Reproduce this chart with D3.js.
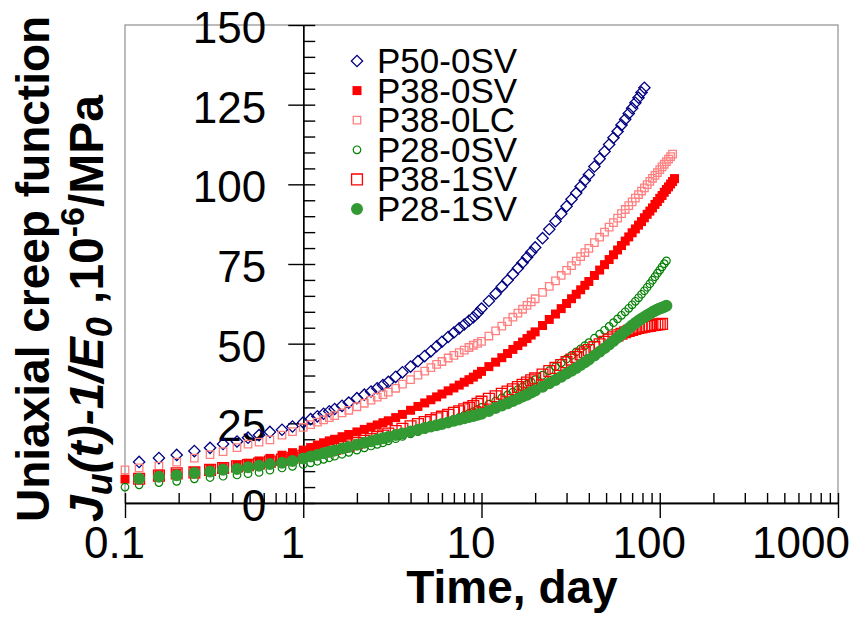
<!doctype html>
<html>
<meta charset="utf-8">
<style>
body { margin: 0; background: #fff; }
svg { font-family: Arial, "Liberation Sans", sans-serif; }
</style>
<head>
<script src="https://cdn.jsdelivr.net/npm/d3@7"></script>
</head>
<body>
<script>

var width = 858,
	height = 620;

// time of each reading, days
var days = [0.1, 0.12, 0.155, 0.195, 0.245, 0.3, 0.355, 0.425, 0.49, 0.565, 0.65, 0.76, 0.87,
	1, 1.1, 1.2, 1.3, 1.4, 1.5, 1.65, 1.8, 2, 2.2, 2.4, 2.6, 2.8, 3, 3.3, 3.6, 4, 4.4, 4.8, 5.2, 5.6, 6, 6.5, 7, 7.5, 8, 8.5, 9, 9.5,
	10, 11, 12, 13, 14, 15, 16, 17, 18, 19, 20, 22, 24, 26, 28, 30, 32, 34, 36, 38, 40,
	43, 46, 49, 52, 55, 58, 61, 64, 67, 70, 73, 76, 79, 82, 85, 88, 91, 94, 97, 100, 103, 106, 109, 112, 115, 118, 121];

// creep function, 10^-6/MPa (null = no reading; series stop when the test ended)
var p50_0sv = [null, 12.9, 14.1, 15.1, 16.3, 17.3, 18.5, 19.3, 20.5, 21.3, 22.3, 23.0, 24.0,
	25.3, 26.3, 27.2, 28.0, 28.8, 29.5, 30.5, 31.5, 32.9, 34.0, 35.0, 36.0, 37.0, 38.0, 39.6, 41.0, 42.8, 44.5, 46.1, 47.6, 49.2, 50.6, 52.1, 53.5, 54.8, 56.0, 57.2, 58.3, 59.6,
	61.0, 63.4, 65.7, 67.9, 69.9, 71.8, 73.7, 75.4, 77.1, 78.7, 80.2, 83.1, 85.9, 88.4, 90.8, 93.1, 95.3, 97.3, 99.3, 101.2, 103.0,
	105.6, 108.0, 110.3, 112.5, 114.6, 116.6, 118.6, 120.4, 122.2, 123.9, 125.6, 127.2, 128.8, 130.3];

var p38_0sv = [7.5, 8.0, 8.8, 9.3, 9.9, 10.7, 11.1, 11.9, 12.5, 13.2, 14.0, 15.0, 15.8,
	16.6, 17.4, 18.2, 18.9, 19.5, 20.0, 20.8, 21.5, 22.3, 23.1, 23.8, 24.5, 25.2, 25.8, 26.8, 27.8, 29.1, 30.3, 31.4, 32.4, 33.3, 34.2, 35.2, 36.1, 37.0, 37.9, 38.7, 39.5, 40.4,
	41.3, 42.8, 44.2, 45.6, 46.9, 48.2, 49.4, 50.5, 51.6, 52.7, 53.7, 55.7, 57.6, 59.3, 61.0, 62.6, 64.1, 65.5, 66.9, 68.3, 69.5,
	71.4, 73.1, 74.8, 76.4, 77.9, 79.4, 80.8, 82.2, 83.5, 84.8, 86.0, 87.2, 88.3, 89.5, 90.6, 91.6, 92.6, 93.7, 94.6, 95.6, 96.5, 97.5, 98.4, 99.2, 100.1, 100.9, 101.8];

var p38_0lc = [10.4, 11.0, 11.6, 12.8, 14.1, 15.2, 16.1, 17.4, 18.5, 19.1, 19.8, 21.3, 22.4,
	23.7, 24.6, 25.4, 26.1, 26.8, 27.4, 28.3, 29.1, 30.2, 31.3, 32.3, 33.2, 34.0, 34.8, 36.0, 37.3, 38.7, 40.1, 41.4, 42.5, 43.5, 44.4, 45.5, 46.3, 47.2, 48.0, 48.8, 49.5, 50.1,
	50.7, 52.4, 54.0, 55.5, 56.9, 58.3, 59.6, 60.8, 62.0, 63.1, 64.1, 66.1, 68.0, 69.7, 71.4, 73.0, 74.5, 75.9, 77.3, 78.6, 79.9,
	81.7, 83.4, 85.0, 86.6, 88.0, 89.4, 90.8, 92.1, 93.3, 94.5, 95.7, 96.8, 97.9, 98.9, 99.9, 100.9, 101.9, 102.8, 103.7, 104.6, 105.5, 106.3, 107.1, 107.9, 108.7, 109.5];

var p28_0sv = [5.0, 5.7, 6.4, 6.8, 7.6, 8.0, 8.4, 8.8, 9.2, 9.6, 10.3, 11.0, 11.5,
	12.1, 12.6, 13.1, 13.7, 14.2, 14.7, 15.3, 15.9, 16.6, 17.3, 17.9, 18.4, 18.9, 19.5, 20.2, 20.9, 21.7, 22.4, 23.1, 23.7, 24.3, 24.9, 25.6, 26.3, 26.9, 27.5, 28.1, 28.7, 29.4,
	30.0, 31.0, 32.0, 33.0, 33.9, 34.8, 35.6, 36.4, 37.2, 38.0, 38.7, 40.1, 41.5, 42.8, 44.0, 45.2, 46.3, 47.4, 48.4, 49.4, 50.3,
	51.7, 53.0, 54.2, 55.4, 56.6, 57.8, 58.9, 60.0, 61.1, 62.2, 63.3, 64.4, 65.5, 66.6, 67.7, 68.8, 69.9, 71.0, 72.1, 73.1, 74.1, 75.1, 76.0];

var p38_1sv = [null, 7.6, 8.6, 9.3, 9.6, 10.4, 11.0, 11.5, 11.9, 12.4, 13.0, 13.6, 14.2,
	14.8, 15.3, 15.8, 16.2, 16.6, 17.0, 17.6, 18.1, 18.8, 19.5, 20.1, 20.7, 21.2, 21.8, 22.6, 23.3, 24.1, 24.8, 25.4, 26.0, 26.6, 27.1, 27.7, 28.3, 28.8, 29.4, 29.9, 30.4, 31.1,
	31.8, 32.7, 33.5, 34.3, 35.0, 35.7, 36.4, 37.1, 37.8, 38.5, 39.1, 40.3, 41.4, 42.4, 43.3, 44.2, 45.0, 45.8, 46.6, 47.3, 48.0,
	48.9, 49.8, 50.6, 51.3, 52.0, 52.6, 53.1, 53.6, 54.0, 54.3, 54.6, 54.9, 55.1, 55.3, 55.5, 55.6, 55.8, 55.9, 56.0, 56.1, 56.2];

var p28_1sv = [null, 7.6, 8.2, 8.7, 9.4, 9.9, 10.4, 10.7, 11.2, 11.7, 12.2, 12.6, 13.2,
	14.0, 14.6, 15.1, 15.6, 16.1, 16.5, 17.1, 17.6, 18.3, 18.9, 19.4, 19.9, 20.3, 20.7, 21.3, 21.8, 22.4, 23.0, 23.5, 24.0, 24.4, 24.8, 25.3, 25.8, 26.2, 26.6, 27.0, 27.3, 27.7,
	28.0, 28.9, 29.8, 30.6, 31.3, 32.0, 32.7, 33.4, 34.0, 34.7, 35.3, 36.5, 37.6, 38.6, 39.6, 40.6, 41.5, 42.4, 43.3, 44.2, 45.0,
	46.3, 47.5, 48.6, 49.7, 50.8, 51.9, 52.9, 53.9, 54.8, 55.7, 56.5, 57.2, 57.8, 58.4, 58.9, 59.4, 59.9, 60.3, 60.7, 61.0, 61.3, 61.6, 61.9];

var seriesNames = ["P50-0SV", "P38-0SV", "P38-0LC", "P28-0SV", "P38-1SV", "P28-1SV"];
var seriesValues = [p50_0sv, p38_0sv, p38_0lc, p28_0sv, p38_1sv, p28_1sv];

var yTicks = [0, 25, 50, 75, 100, 125, 150];
var xTicks = [0.1, 1, 10, 100, 1000];
var xTickLabels = ["0.1", "1", "10", "100", "1000"];

// marker look for each series, same order as seriesNames
var markers = [
	{shape: d3.symbolSquare, size: 64, rotate: 45, fill: "none", stroke: "#000080", sw: 1.3},
	{shape: d3.symbolSquare, size: 81, rotate: 0, fill: "#ff0000", stroke: "none", sw: 0},
	{shape: d3.symbolSquare, size: 56, rotate: 0, fill: "none", stroke: "#ff8080", sw: 1.3},
	{shape: d3.symbolCircle, size: 45, rotate: 0, fill: "none", stroke: "#008000", sw: 1.2},
	{shape: d3.symbolSquare, size: 117, rotate: 0, fill: "none", stroke: "#ff0000", sw: 1.3},
	{shape: d3.symbolCircle, size: 113, rotate: 0, fill: "#339933", stroke: "none", sw: 0}
];

var svg = d3.select("body").append("svg")
	.attr("width", width)
	.attr("height", height);

var x = d3.scaleLog()
	.domain([0.1, 1000])
	.range([125, 838]);

var y = d3.scaleLinear()
	.domain([0, 150])
	.range([503, 25]);

// grey frame round the plot
svg.append("rect")
	.attr("x", x(0.1))
	.attr("y", y(150))
	.attr("width", x(1000) - x(0.1))
	.attr("height", y(0) - y(150))
	.attr("fill", "none")
	.attr("stroke", "#8f8f8f")
	.attr("stroke-width", 1.2);

// x axis: minor + major ticks pointing up, majors also down with labels
var xUp = svg.append("g")
	.attr("transform", "translate(0," + y(0) + ")")
	.call(d3.axisTop(x).tickValues(x.ticks()).tickSize(10).tickSizeOuter(0).tickFormat(""));

var xDown = svg.append("g")
	.attr("transform", "translate(0," + y(0) + ")")
	.call(d3.axisBottom(x).tickValues(xTicks).tickSize(15).tickSizeOuter(0).tickPadding(9)
		.tickFormat(function(d, i) { return xTickLabels[i]; }));

// y axis sits at t = 1 day
var yRight = svg.append("g")
	.attr("transform", "translate(" + x(1) + ",0)")
	.call(d3.axisRight(y).tickValues(d3.range(0, 151, 5)).tickSize(12).tickSizeOuter(0).tickFormat(""));

var yLeft = svg.append("g")
	.attr("transform", "translate(" + x(1) + ",0)")
	.call(d3.axisLeft(y).tickValues(yTicks).tickSize(15).tickSizeOuter(0).tickPadding(22));

[xUp, xDown, yRight, yLeft].forEach(function(g) {
	g.attr("font-family", "Arial, 'Liberation Sans', sans-serif").attr("font-size", 44);
	g.selectAll("line").attr("stroke", "#000").attr("stroke-width", 1.4);
	g.selectAll(".domain").attr("stroke", "#000").attr("stroke-width", 1.4);
	g.selectAll("text").attr("fill", "#000");
});
yLeft.selectAll("text").attr("dy", "0.4em");
xDown.selectAll("text").attr("dx", -11);
// keep last label inside the picture
xDown.selectAll("text").each(function() {
	var b = this.getBBox();
	var tr = this.parentNode.transform.baseVal.consolidate().matrix.e;
	var right = tr + b.x + b.width;
	if (right > 850) d3.select(this).attr("dx", -11 - (right - 850));
});

// data
seriesValues.forEach(function(vals, k) {
	var m = markers[k];
	var pts = [];
	vals.forEach(function(v, i) { if (v !== null) pts.push([days[i], v]); });
	svg.append("g")
		.selectAll("path")
		.data(pts)
		.enter().append("path")
		.attr("d", d3.symbol().type(m.shape).size(m.size))
		.attr("transform", function(d) {
			return "translate(" + x(d[0]) + "," + y(d[1]) + ") rotate(" + m.rotate + ")";
		})
		.attr("fill", m.fill)
		.attr("stroke", m.stroke)
		.attr("stroke-width", m.sw);
});

// legend
var legend = svg.selectAll("g.legend")
	.data(seriesNames)
	.enter().append("g")
	.attr("class", "legend")
	.attr("transform", function(d, i) { return "translate(357," + (61 + i * 29.6) + ")"; });

legend.append("path")
	.attr("d", function(d, i) { return d3.symbol().type(markers[i].shape).size(markers[i].size)(); })
	.attr("transform", function(d, i) { return "rotate(" + markers[i].rotate + ")"; })
	.attr("fill", function(d, i) { return markers[i].fill; })
	.attr("stroke", function(d, i) { return markers[i].stroke; })
	.attr("stroke-width", function(d, i) { return markers[i].sw; });

legend.append("text")
	.attr("x", 20)
	.attr("y", 12)
	.attr("font-size", 35)
	.text(function(d) { return d; });

// axis titles
svg.append("text")
	.attr("x", 512)
	.attr("y", 603)
	.attr("text-anchor", "middle")
	.attr("font-size", 46)
	.attr("font-weight", "bold")
	.text("Time, day");

svg.append("text")
	.attr("transform", "translate(49,522) rotate(-90)")
	.attr("font-size", 46)
	.attr("font-weight", "bold")
	.text("Uniaxial creep function");

var t2 = svg.append("text")
	.attr("transform", "translate(103,522) rotate(-90)")
	.attr("font-size", 48)
	.attr("font-weight", "bold");
t2.append("tspan").attr("font-style", "italic").text("J");
t2.append("tspan").attr("font-style", "italic").attr("font-size", 36).attr("dy", 9).text("u");
t2.append("tspan").attr("font-style", "italic").attr("dy", -9).text("(t)-1/E");
t2.append("tspan").attr("font-style", "italic").attr("font-size", 36).attr("dy", 9).text("0");
t2.append("tspan").attr("dy", -9).text(" ,10");
t2.append("tspan").attr("font-size", 34).attr("dy", -19).text("-6");
t2.append("tspan").attr("dy", 19).text("/MPa");

</script>
</body>
</html>
